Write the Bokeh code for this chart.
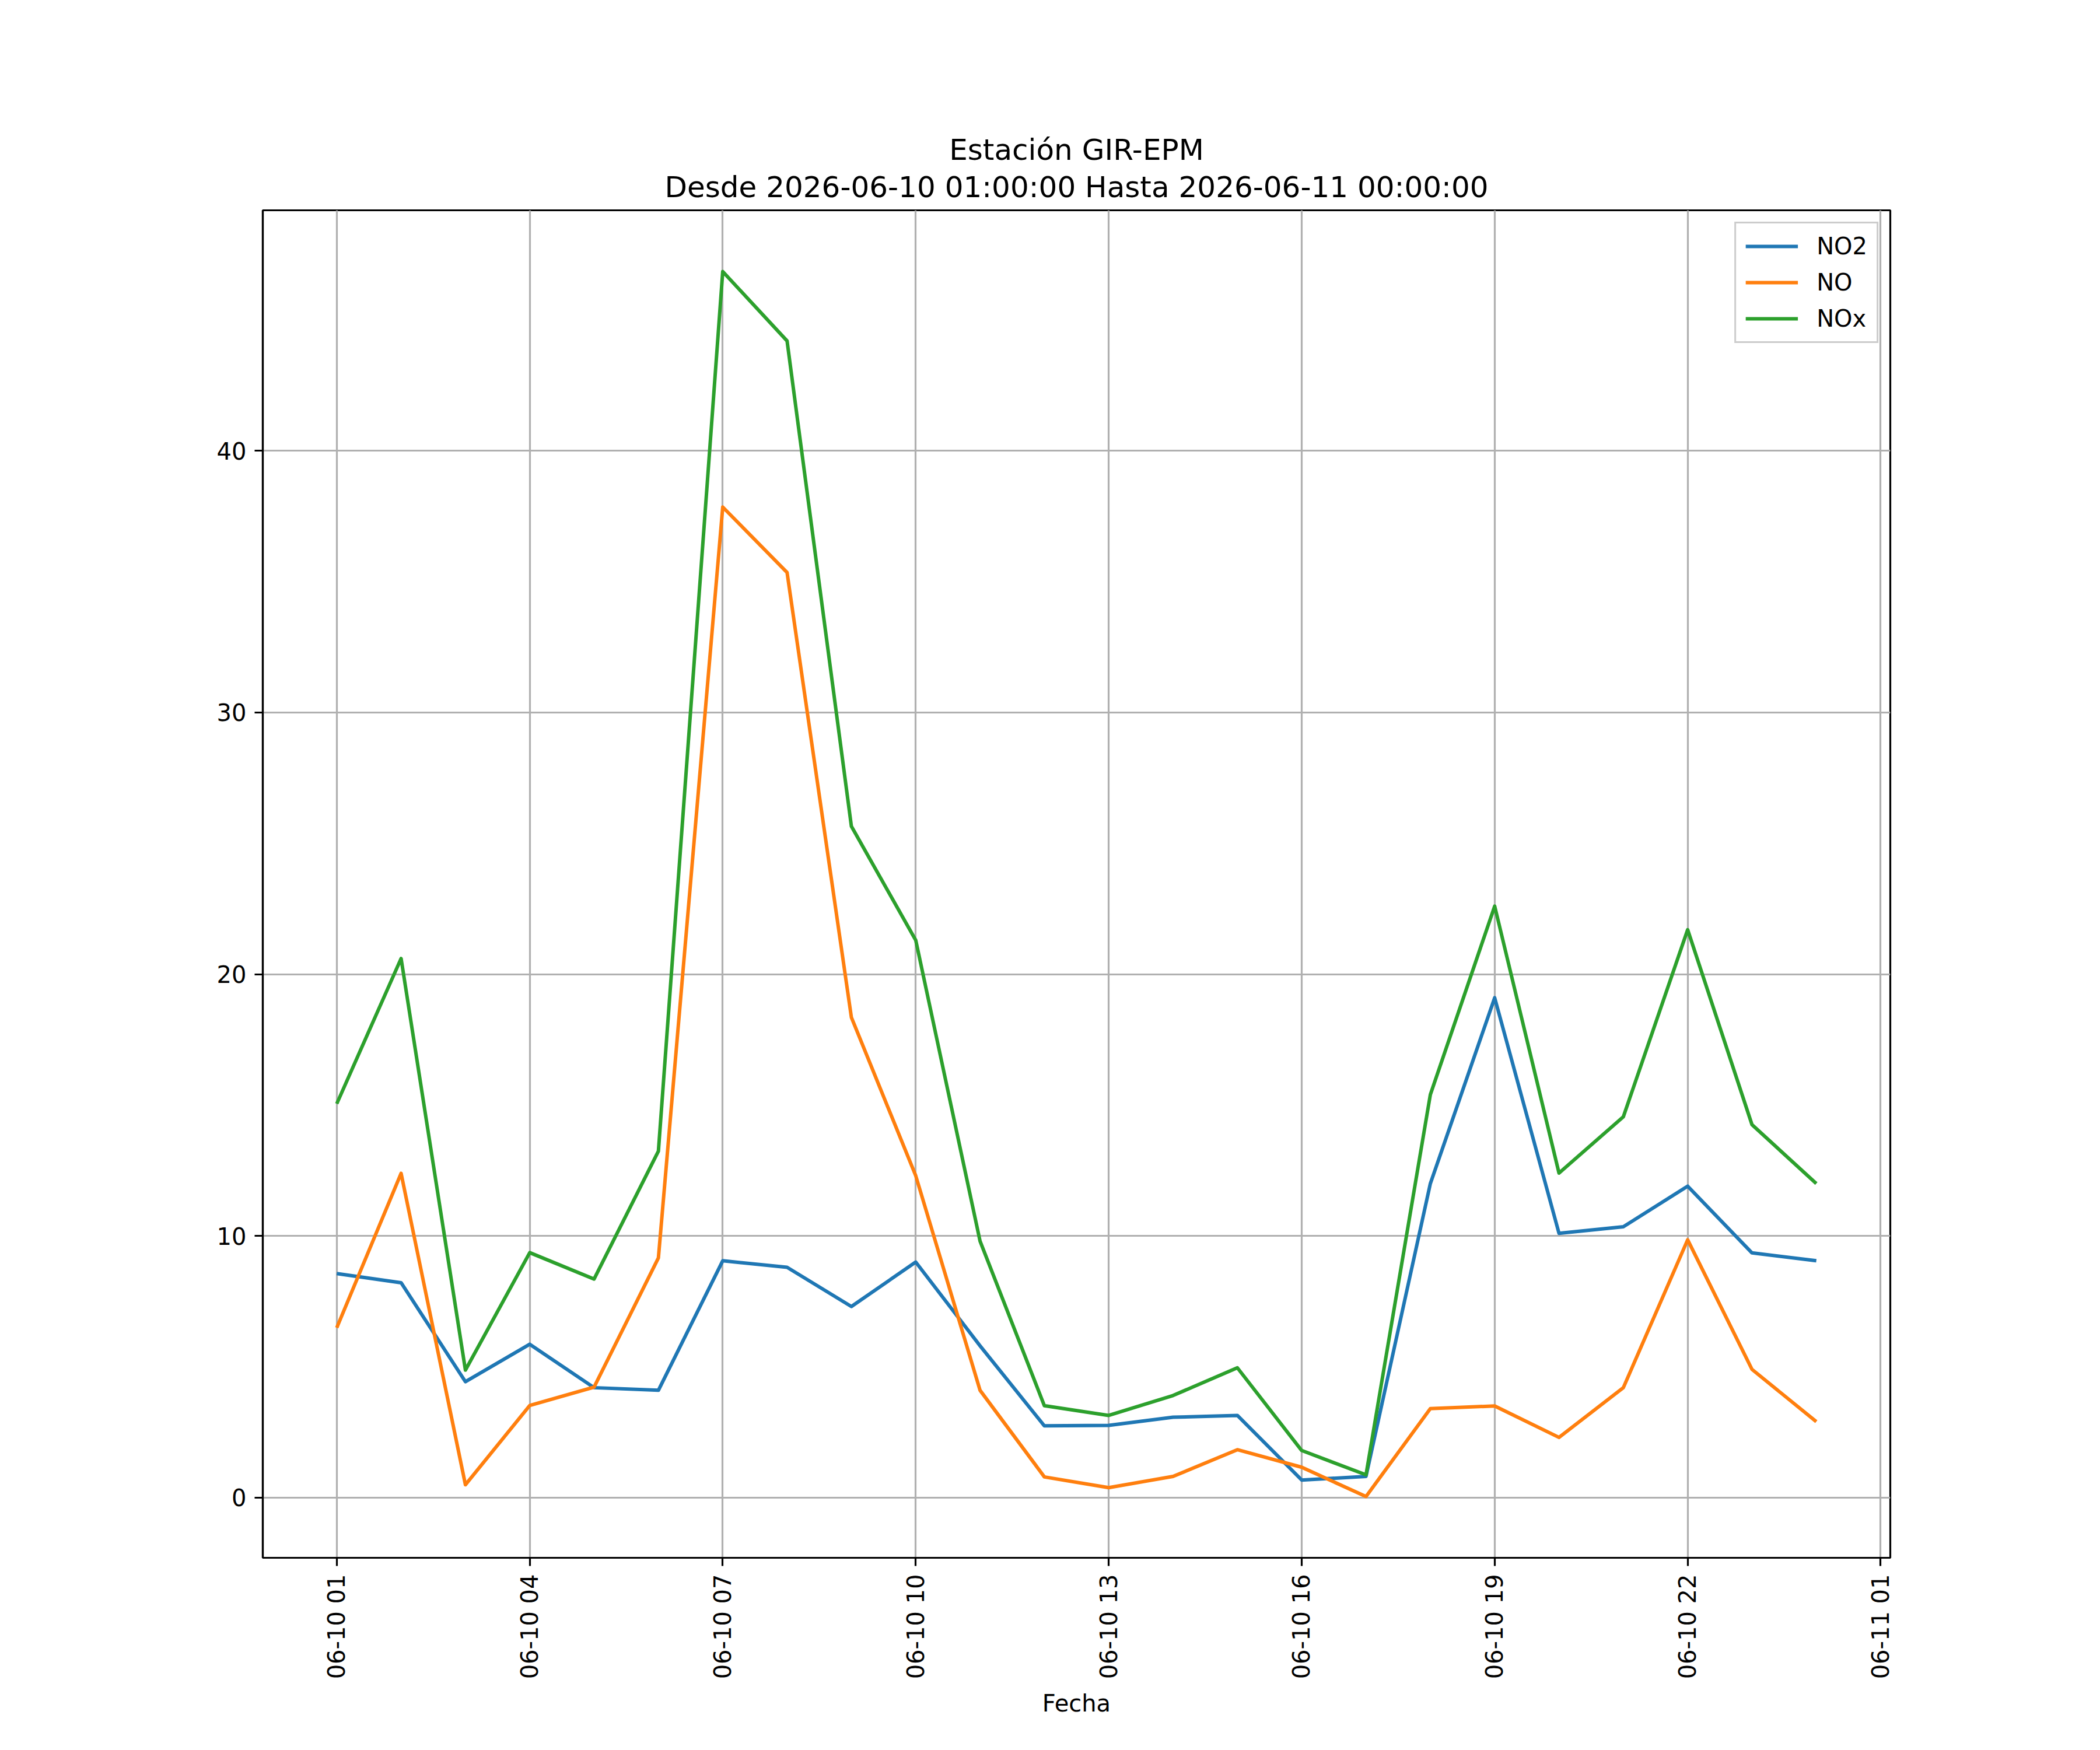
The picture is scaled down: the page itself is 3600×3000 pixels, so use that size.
import math
import pandas as pd
from bokeh.plotting import figure
from bokeh.models import (ColumnDataSource, Range1d, FixedTicker, DatetimeTickFormatter,
                          Title, Legend, LegendItem)
from bokeh.embed import file_html
from bokeh.resources import INLINE

# ---------------- data ----------------
times = ["2026-06-10 01:00", "2026-06-10 02:00", "2026-06-10 03:00", "2026-06-10 04:00",
         "2026-06-10 05:00", "2026-06-10 06:00", "2026-06-10 07:00", "2026-06-10 08:00",
         "2026-06-10 09:00", "2026-06-10 10:00", "2026-06-10 11:00", "2026-06-10 12:00",
         "2026-06-10 13:00", "2026-06-10 14:00", "2026-06-10 15:00", "2026-06-10 16:00",
         "2026-06-10 17:00", "2026-06-10 18:00", "2026-06-10 19:00", "2026-06-10 20:00",
         "2026-06-10 21:00", "2026-06-10 22:00", "2026-06-10 23:00", "2026-06-11 00:00"]

no2 = [8.56, 8.21, 4.43, 5.86, 4.2, 4.1, 9.05, 8.8, 7.3, 9.0, 5.8, 2.74,
       2.76, 3.07, 3.14, 0.67, 0.81, 12.0, 19.1, 10.1, 10.35, 11.9, 9.35, 9.05]
no = [6.49, 12.39, 0.49, 3.52, 4.22, 9.16, 37.85, 35.35, 18.35, 12.3, 4.1, 0.79,
      0.38, 0.81, 1.83, 1.16, 0.04, 3.4, 3.5, 2.3, 4.2, 9.85, 4.9, 2.9]
nox = [15.05, 20.6, 4.87, 9.36, 8.35, 13.24, 46.85, 44.2, 25.65, 21.3, 9.8, 3.51,
       3.14, 3.9, 4.96, 1.8, 0.87, 15.4, 22.6, 12.4, 14.55, 21.7, 14.25, 12.0]

series_names = ["NO2", "NO", "NOx"]
series_colors = ["#1f77b4", "#ff7f0e", "#2ca02c"]

x_tick_labels = ["06-10 01", "06-10 04", "06-10 07", "06-10 10", "06-10 13",
                 "06-10 16", "06-10 19", "06-10 22", "06-11 01"]
y_ticks = [0, 10, 20, 30, 40]

title_line1 = "Estación GIR-EPM"
title_line2 = "Desde 2026-06-10 01:00:00 Hasta 2026-06-11 00:00:00"
x_label = "Fecha"

# ---------------- figure ----------------
FONT = "DejaVu Sans"
PX = 4.0  # matplotlib points -> px at 288 dpi

t = pd.to_datetime(times)
src = ColumnDataSource(dict(t=t, NO2=no2, NO=no, NOx=nox))

span_t = t.max() - t.min()
x_start = t.min() - 0.05 * span_t
x_end = t.max() + 0.05 * span_t
all_vals = no2 + no + nox
vmin, vmax = min(all_vals), max(all_vals)
vspan = vmax - vmin

p = figure(x_axis_type="datetime", output_backend="svg", toolbar_location=None,
           frame_width=2790, frame_height=2310,
           min_border_left=450, min_border_right=344, min_border_top=360, min_border_bottom=314,
           x_range=Range1d(x_start, x_end),
           y_range=Range1d(vmin - 0.05 * vspan, vmax + 0.05 * vspan),
           background_fill_color="white", border_fill_color="white")

renderers = []
for name, col in zip(series_names, series_colors):
    r = p.line("t", name, source=src, line_color=col, line_width=1.5 * PX, line_join="round")
    renderers.append(r)

# titles (first added sits closest to the frame)
p.add_layout(Title(text=title_line2, align="center", text_font=FONT, text_font_size="50px",
                   text_font_style="normal", text_color="black", standoff=22), "above")
p.add_layout(Title(text=title_line1, align="center", text_font=FONT, text_font_size="50px",
                   text_font_style="normal", text_color="black", standoff=-15), "above")

# x axis
tick_ts = [pd.to_datetime("2026-" + s, format="%Y-%m-%d %H") for s in x_tick_labels]
tick_ms = [ts.value / 1e6 for ts in tick_ts]
p.xaxis.ticker = FixedTicker(ticks=tick_ms)
fmt = "%m-%d %H"
p.xaxis.formatter = DatetimeTickFormatter(milliseconds=fmt, seconds=fmt, minsec=fmt, minutes=fmt,
                                          hourmin=fmt, hours=fmt, days=fmt, months=fmt, years=fmt)
p.xaxis.major_label_orientation = math.pi / 2
p.xaxis.axis_label = x_label

# y axis
p.yaxis.ticker = FixedTicker(ticks=y_ticks)

for ax in (p.xaxis[0], p.yaxis[0]):
    ax.axis_line_color = "black"
    ax.axis_line_width = 0.8 * PX
    ax.major_tick_line_color = "black"
    ax.major_tick_line_width = 0.8 * PX
    ax.major_tick_out = int(round(3.5 * PX))
    ax.major_tick_in = 0
    ax.minor_tick_line_color = None
    ax.major_label_text_font = FONT
    ax.major_label_text_font_size = "40px"
    ax.major_label_text_color = "black"
    ax.major_label_standoff = 14
    ax.axis_label_text_font = FONT
    ax.axis_label_text_font_size = "40px"
    ax.axis_label_text_font_style = "normal"
    ax.axis_label_text_color = "black"
    ax.axis_label_standoff = 16

for g in (p.xgrid[0], p.ygrid[0]):
    g.grid_line_color = "#b0b0b0"
    g.grid_line_width = 0.8 * PX
    g.grid_line_alpha = 1.0

p.outline_line_color = "black"
p.outline_line_width = 0.8 * PX
p.outline_line_alpha = 1.0

legend = Legend(items=[LegendItem(label=n, renderers=[r]) for n, r in zip(series_names, renderers)],
                location="top_right", margin=20, padding=16, spacing=16,
                glyph_width=90, glyph_height=40, label_height=40, label_standoff=32,
                label_text_font=FONT, label_text_font_size="40px", label_text_color="black",
                border_line_color="#cccccc", border_line_width=0.8 * PX, border_line_alpha=1.0,
                background_fill_color="white", background_fill_alpha=0.8)
p.add_layout(legend, "center")

open("out.html", "w").write(file_html(p, INLINE))
